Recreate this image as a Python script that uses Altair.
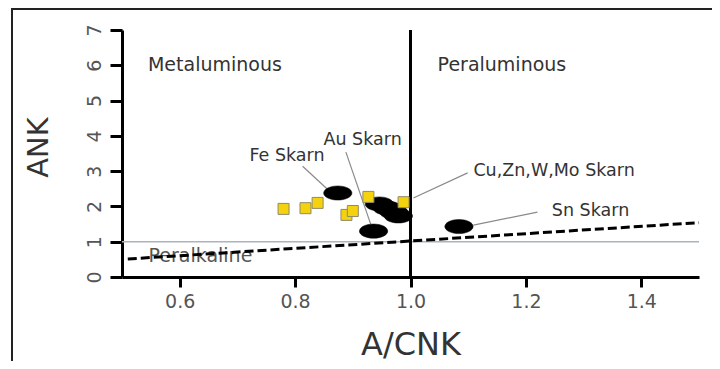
import altair as alt
import pandas as pd

# ---------------- data ----------------
x_ticks = [0.6, 0.8, 1.0, 1.2, 1.4]
y_ticks = [0, 1, 2, 3, 4, 5, 6, 7]

# yellow squares (samples)
sq_x = [0.780, 0.818, 0.839, 0.889, 0.900, 0.927, 0.988]
sq_y = [1.93, 1.95, 2.10, 1.76, 1.87, 2.27, 2.12]

# black ellipses (skarn fields)
ell_x = [0.874, 0.936, 0.946, 0.960, 0.971, 0.979, 1.084]
ell_y = [2.38, 1.30, 2.07, 1.95, 1.84, 1.73, 1.43]

# skarn labels and their leader lines
skarn_names = ["Fe Skarn", "Au Skarn", "Cu,Zn,W,Mo Skarn", "Sn Skarn"]
skarn_tx = [0.786, 0.917, 1.109, 1.312]
skarn_ty = [3.43, 3.88, 3.00, 1.87]
skarn_align = ["center", "center", "left", "center"]
lead_x1 = [0.813, 0.888, 1.099, 1.220]
lead_y1 = [3.14, 3.54, 2.95, 1.84]
lead_x2 = [0.858, 0.931, 1.005, 1.109]
lead_y2 = [2.46, 1.50, 2.24, 1.47]

# field names
region_names = ["Metaluminous", "Peraluminous"]
region_x = [0.545, 1.047]
region_y = [6.0, 6.0]
peralk_name = ["Peralkaline"]
peralk_x = [0.546]
peralk_y = [0.59]

# boundary lines
divide_x = [1.0]
divide_y = [0.0, 7.0]
ank_ref_y = [1.0]
ank_ref_x = [0.5, 1.5]
dash_x = [0.51, 1.5]
dash_y = [0.51, 1.54]

# ---------------- chart ----------------
FONT = "DejaVu Sans"
XS = alt.Scale(domain=[0.5, 1.5], nice=False, zero=False)
YS = alt.Scale(domain=[0, 7], nice=False, zero=True)

x_axis = alt.Axis(values=x_ticks, format=".1f", grid=False,
                  domainColor="black", domainWidth=3,
                  tickColor="black", tickWidth=3, tickSize=10,
                  labelFont=FONT, labelFontSize=19, labelColor="#555555",
                  labelPadding=5,
                  titleFont=FONT, titleFontSize=32,
                  titleFontWeight="normal", titleColor="#333333",
                  titleBaseline="alphabetic", titleY=77)
y_axis = alt.Axis(values=y_ticks, grid=False,
                  domainColor="black", domainWidth=3,
                  tickColor="black", tickWidth=3, tickSize=12,
                  labelFont=FONT, labelFontSize=19, labelColor="#555555",
                  labelAngle=270, labelAlign="center", labelBaseline="bottom",
                  labelPadding=6,
                  titleFont=FONT, titleFontSize=29,
                  titleFontWeight="normal", titleColor="#333333",
                  titleAngle=270, titleAlign="center",
                  titleBaseline="alphabetic", titleX=-75, titleY=117)

sq_df = pd.DataFrame({"x": sq_x, "y": sq_y})
ell_df = pd.DataFrame({"x": ell_x, "y": ell_y})
lab_df = pd.DataFrame({"name": skarn_names, "x": skarn_tx, "y": skarn_ty,
                       "align": skarn_align})
lead_df = pd.DataFrame({"x": lead_x1, "y": lead_y1, "x2": lead_x2, "y2": lead_y2})
reg_df = pd.DataFrame({"name": region_names, "x": region_x, "y": region_y})
pk_df = pd.DataFrame({"name": peralk_name, "x": peralk_x, "y": peralk_y})
vline_df = pd.DataFrame({"x": divide_x, "y": [divide_y[0]], "y2": [divide_y[1]]})
hline_df = pd.DataFrame({"y": ank_ref_y, "x": [ank_ref_x[0]], "x2": [ank_ref_x[1]]})
dash_df = pd.DataFrame({"x": [dash_x[0]], "y": [dash_y[0]],
                        "x2": [dash_x[1]], "y2": [dash_y[1]]})

def X(f="x"):
    return alt.X(f"{f}:Q", scale=XS, axis=x_axis, title="A/CNK")

def Y(f="y"):
    return alt.Y(f"{f}:Q", scale=YS, axis=y_axis, title="ANK")

# outer frame (decoration)
frame = alt.Chart(pd.DataFrame({"a": [0]})).mark_rect(
    fillOpacity=0, stroke="#222222", strokeWidth=2
).encode(x=alt.value(-110), x2=alt.value(700), y=alt.value(-21), y2=alt.value(400))

hline = alt.Chart(hline_df).mark_rule(color="#aab4c2", strokeWidth=1.5).encode(
    x=X(), x2="x2:Q", y=Y())

pk_text = alt.Chart(pk_df).mark_text(
    font=FONT, fontSize=19, color="#555555", align="left", baseline="middle"
).encode(x=X(), y=Y(), text="name:N")

dash = alt.Chart(dash_df).mark_rule(color="black", strokeWidth=3,
                                    strokeDash=[9, 4]).encode(
    x=X(), y=Y(), x2="x2:Q", y2="y2:Q")

vline = alt.Chart(vline_df).mark_rule(color="black", strokeWidth=3).encode(
    x=X(), y=Y(), y2="y2:Q")

leaders = alt.Chart(lead_df).mark_rule(color="#8a8a8a", strokeWidth=1.2).encode(
    x=X(), y=Y(), x2="x2:Q", y2="y2:Q")

ELLIPSE = "M -1 0 A 1 0.5 0 1 0 1 0 A 1 0.5 0 1 0 -1 0 Z"
ellipses = alt.Chart(ell_df).mark_point(
    shape=ELLIPSE, size=800, filled=True, fill="black", stroke="black",
    strokeWidth=0.5, opacity=1
).encode(x=X(), y=Y())

squares = alt.Chart(sq_df).mark_point(
    shape="square", size=121, filled=True, fill="#f5d20f", stroke="#8f8a6a",
    strokeWidth=1, opacity=1
).encode(x=X(), y=Y())

lab_center = alt.Chart(lab_df).transform_filter(
    alt.datum.align == "center").mark_text(
    font=FONT, fontSize=17.5, color="#333333", align="center", baseline="middle"
).encode(x=X(), y=Y(), text="name:N")

lab_left = alt.Chart(lab_df).transform_filter(
    alt.datum.align == "left").mark_text(
    font=FONT, fontSize=17.5, color="#333333", align="left", baseline="middle"
).encode(x=X(), y=Y(), text="name:N")

regions = alt.Chart(reg_df).mark_text(
    font=FONT, fontSize=19, color="#333333", align="left", baseline="middle"
).encode(x=X(), y=Y(), text="name:N")

chart = alt.layer(
    frame, hline, pk_text, dash, vline, leaders, ellipses, squares,
    lab_center, lab_left, regions
).properties(
    width=577, height=247,
    padding={"left": 114, "top": 22, "right": 13, "bottom": 84},
    autosize=alt.AutoSizeParams(type="none"),
    background="white",
).configure_view(strokeWidth=0)

chart.save("out.html", embed_options={"renderer": "svg", "actions": False})
